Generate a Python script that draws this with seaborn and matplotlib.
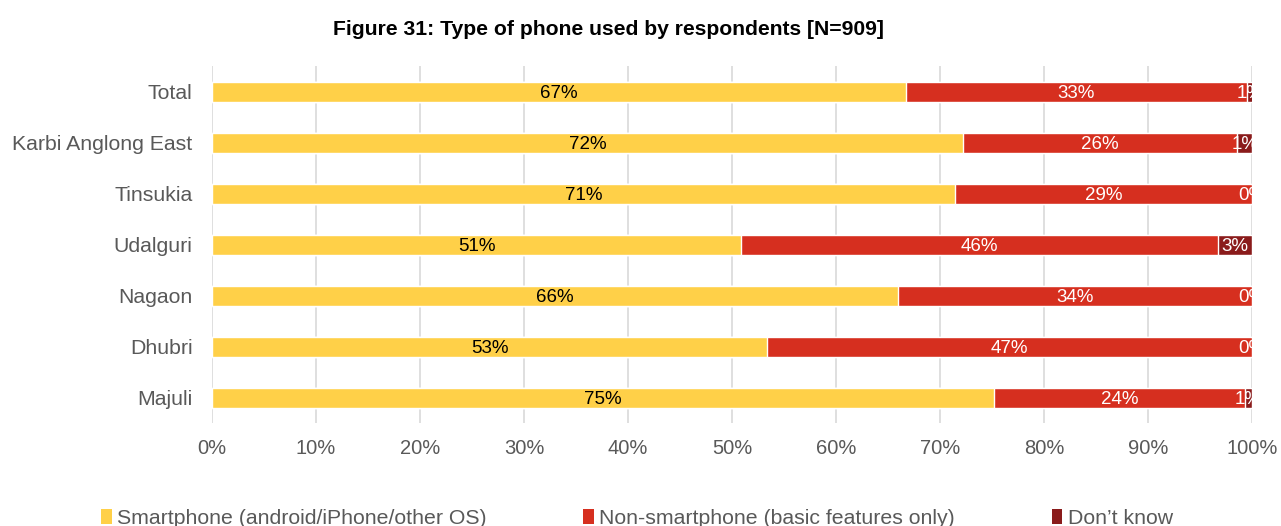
import numpy as np
import pandas as pd
import matplotlib
matplotlib.use('Agg')
import matplotlib.pyplot as plt
from matplotlib.patches import Patch
import seaborn as sns

# data (percent of respondents)
regions = ['Total', 'Karbi Anglong East', 'Tinsukia', 'Udalguri', 'Nagaon', 'Dhubri', 'Majuli']
smartphone = [66.7, 72.2, 71.4, 50.9, 66.0, 53.4, 75.2]
non_smart = [32.8, 26.4, 28.6, 45.8, 34.0, 46.6, 24.1]
dont_know = [0.6, 1.4, 0.0, 3.3, 0.0, 0.0, 0.7]
series_names = ['Smartphone (android/iPhone/other OS)', 'Non-smartphone (basic features only)', 'Don\u2019t know']
colors = ['#FFD048', '#D62F1F', '#8A1B1B']
label_colors = ['black', 'white', 'white']
xticks = np.arange(0, 101, 10)

sns.set_theme(style='white')
plt.rcParams['font.family'] = ['Liberation Sans', 'DejaVu Sans']

df = pd.DataFrame({'region': regions, 's': smartphone, 'n': non_smart, 'd': dont_know})
df['c1'] = df['s']
df['c2'] = df['s'] + df['n']
df['c3'] = df['c2'] + df['d']

fig = plt.figure(figsize=(12.81, 5.26), dpi=100)
ax = fig.add_axes([0.1655, 0.195, 0.8119, 0.6786])

# stacked bars drawn as layered cumulative totals
for col, c in zip(['c3', 'c2', 'c1'], colors[::-1]):
    sns.barplot(data=df, y='region', x=col, color=c, orient='h', width=0.4,
                saturation=1, ax=ax, order=regions)

# segment labels, clipped at the axes edge like the original
for i, row in df.iterrows():
    starts = [0, row['c1'], row['c2']]
    vals = [row['s'], row['n'], row['d']]
    for st, v, tc in zip(starts, vals, label_colors):
        ax.text(st + v / 2, i, f'{v:.0f}%', ha='center', va='center_baseline',
                color=tc, fontsize=13.5, clip_on=True)

ax.set_xlim(0, 100)
ax.set_ylim(len(regions) - 0.5, -0.5)
ax.set_xticks(xticks)
ax.set_xticklabels([f'{t}%' for t in xticks])
ax.set_xlabel('')
ax.set_ylabel('')
ax.xaxis.grid(True, color='#D9D9D9', linewidth=1.2)
ax.set_axisbelow(True)
for s in ax.spines.values():
    s.set_visible(False)
ax.tick_params(axis='y', length=0, pad=14, labelsize=15.3, labelcolor='#595959')
ax.tick_params(axis='x', length=0, pad=11, labelsize=14.5, labelcolor='#595959')

fig.text(0.475, 0.943, 'Figure 31: Type of phone used by respondents [N=909]',
         ha='center', va='center', fontsize=15.2, fontweight='bold', color='black')

handles = [Patch(facecolor=c, edgecolor='none') for c in colors]
fig.legend(handles, series_names, loc='center left', bbox_to_anchor=(0.079, 0.015),
           ncol=3, frameon=False, fontsize=15.3, handlelength=0.5, handleheight=0.75,
           handletextpad=0.25, columnspacing=4.55, borderpad=0, borderaxespad=0,
           labelcolor='#595959')

plt.savefig('out.png', dpi=100)
plt.close()
